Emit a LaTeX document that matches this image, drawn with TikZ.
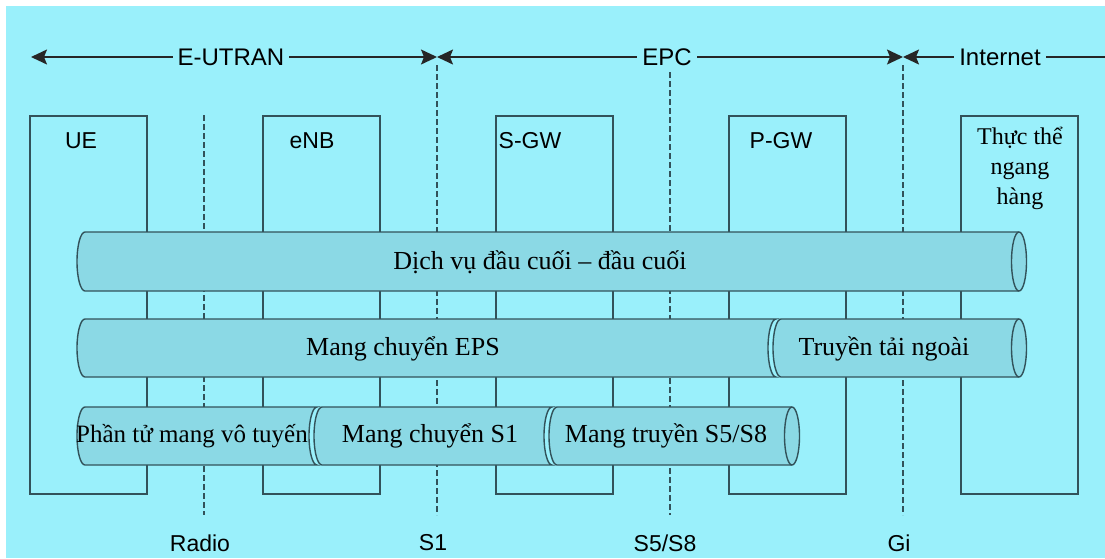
\documentclass[tikz,border=0pt]{standalone}
\usepackage{fontspec}
\setmainfont{Liberation Serif}
\setsansfont{Liberation Sans}
\usetikzlibrary{arrows.meta}

\definecolor{skycyan}{RGB}{154,240,251}
\definecolor{pipefill}{RGB}{139,217,229}
\definecolor{edgegrey}{RGB}{50,82,90}

\begin{document}
\begin{tikzpicture}[x=1pt,y=-1pt,
    entity/.style={draw=edgegrey,line width=1.7pt,anchor=north west,
                   minimum width=117pt,minimum height=378pt,inner sep=0pt},
    entlabel/.style={font=\sffamily\fontsize{23}{27}\selectfont,inner sep=0pt},
    iface/.style={draw=edgegrey,line width=1.5pt,dash pattern=on 6pt off 3pt},
    domainline/.style={draw=black!85,line width=1.5pt},
    Dtip/.tip={Stealth[length=16pt,width=15pt,inset=3pt]},
    domlabel/.style={font=\sffamily\fontsize{24}{28}\selectfont,fill=skycyan,
                     inner xsep=5pt,inner ysep=1pt},
    tube/.style={draw=edgegrey,line width=1.4pt,fill=pipefill},
    tubetext/.style={font=\fontsize{26}{30}\selectfont,inner sep=0pt}]
  % background, white strip top and left
  \fill[white] (0,0) rectangle (1105,558);
  \fill[skycyan] (6,6) rectangle (1105,558);
  \useasboundingbox (0,0) rectangle (1105,558);

  % network elements
  \foreach \name/\x in {ue/29,enb/262,sgw/495,pgw/728,peer/960}
    \node[entity] (\name) at (\x,115) {};
  \node[entlabel] (uelbl) at (81,141) {UE};
  \node[entlabel] (enblbl) at (312,141) {eNB};
  \node[entlabel] (sgwlbl) at (530,141) {S-GW};
  \node[entlabel] (pgwlbl) at (781,141) {P-GW};
  \node[align=center,font=\fontsize{24}{30}\selectfont,inner sep=0pt]
    (peerlbl) at (1020,168) {Thực thể\\ngang\\hàng};

  % interfaces
  \foreach \name/\x/\ytop in {radio/204/115,sone/437/65,sfive/670/72,gi/903/65} {
    \coordinate (\name-t) at (\x,\ytop);
    \coordinate (\name-b) at (\x,515);
    \draw[iface] (\name-t) -- (\name-b);
  }
  \node[entlabel] (radiolbl) at (200,543) {Radio};
  \node[entlabel] (sonelbl) at (433,543) {S1};
  \node[entlabel] (sfivelbl) at (665,543) {S5/S8};
  \node[entlabel] (gilbl) at (899,543) {Gi};

  % domains along the top
  \coordinate (west) at (31,57);
  \coordinate (sonetip) at (437,57);
  \coordinate (gitip) at (903,57);
  \coordinate (east) at (1105,57);
  \draw[domainline,Dtip-Dtip] (west) -- (sonetip);
  \draw[domainline,Dtip-Dtip] (sonetip) -- (gitip);
  \draw[domainline,Dtip-] (gitip) -- (east);
  \node[domlabel] (eutran) at (231,57) {E-UTRAN};
  \node[domlabel] (epc) at (667,57) {EPC};
  \node[domlabel] (inet) at (1000,57) {Internet};

  % bearers: open right end
  \foreach \xl/\xr/\yt/\yb in {85/1019/232/291,781/1019/319/377,557/792/407/465} {
    \pgfmathsetmacro\rad{(\yb-\yt)/2}
    \filldraw[tube] (\xl,\yt) -- (\xr,\yt)
      arc[start angle=90,end angle=-90,x radius=7.5pt,y radius=\rad pt]
      -- (\xl,\yb)
      arc[start angle=270,end angle=90,x radius=8pt,y radius=\rad pt] -- cycle;
    \draw[tube,fill=none] (\xr,\yt)
      arc[start angle=90,end angle=270,x radius=7.5pt,y radius=\rad pt];
  }
  % bearers: joined to the next one
  \foreach \xl/\xr/\yt/\yb in {85/776/319/377,85/317/407/465,322/552/407/465} {
    \pgfmathsetmacro\rad{(\yb-\yt)/2}
    \filldraw[tube] (\xl,\yt) -- (\xr,\yt)
      arc[start angle=90,end angle=270,x radius=8pt,y radius=\rad pt]
      -- (\xl,\yb)
      arc[start angle=270,end angle=90,x radius=8pt,y radius=\rad pt] -- cycle;
  }
  \node[tubetext] (endtoend) at (540,262) {Dịch vụ đầu cuối – đầu cuối};
  \node[tubetext] (epsbearer) at (403,349) {Mang chuyển EPS};
  \node[tubetext] (extbearer) at (884,349) {Truyền tải ngoài};
  \node[tubetext,font=\fontsize{25}{29}\selectfont] (radiobearer) at (192,436) {Phần tử mang vô tuyến};
  \node[tubetext] (sonebearer) at (430,436) {Mang chuyển S1};
  \node[tubetext] (sfivebearer) at (666,436) {Mang truyền S5/S8};
\end{tikzpicture}
\end{document}
